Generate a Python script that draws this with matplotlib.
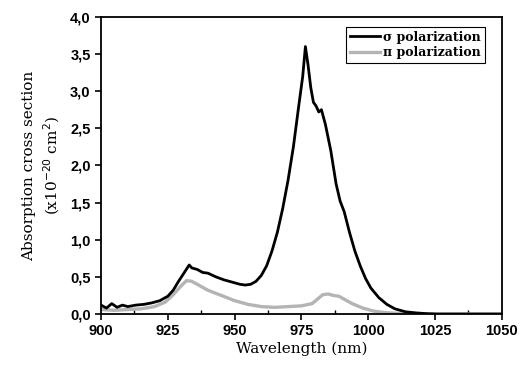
import numpy as np
import matplotlib
matplotlib.use('Agg')
import matplotlib.pyplot as plt
from matplotlib.ticker import MultipleLocator, FuncFormatter

# sigma polarization (black)
sigma_wl = [900, 902, 904, 906, 908, 910, 913, 916, 919, 922, 925, 927, 929, 931,
            933, 934, 936, 938, 940, 943, 946, 949, 952, 954, 956, 958, 960, 962,
            964, 966, 968, 970, 972, 974, 975.5, 976.5, 977.5, 978.5, 979.5, 980.5,
            981.5, 982.5, 984, 986, 988, 989.5, 991, 993, 995, 997, 999, 1001,
            1004, 1007, 1010, 1014, 1018, 1022, 1026, 1035, 1050]
sigma_val = [0.12, 0.08, 0.14, 0.09, 0.12, 0.10, 0.12, 0.13, 0.15, 0.18, 0.24, 0.32, 0.44, 0.55,
             0.66, 0.62, 0.60, 0.56, 0.55, 0.50, 0.46, 0.43, 0.40, 0.39, 0.40, 0.44, 0.52, 0.65,
             0.85, 1.10, 1.42, 1.80, 2.25, 2.80, 3.20, 3.60, 3.35, 3.05, 2.85, 2.80,
             2.72, 2.75, 2.55, 2.20, 1.75, 1.52, 1.38, 1.10, 0.85, 0.65, 0.48, 0.35,
             0.22, 0.13, 0.07, 0.03, 0.015, 0.005, 0.0, 0.0, 0.0]

# pi polarization (grey)
pi_wl = [900, 905, 910, 915, 920, 924, 927, 930, 932, 934, 936, 940, 945, 950,
         955, 960, 965, 970, 975, 979, 981, 983, 985, 987, 989, 991, 994, 998,
         1002, 1006, 1010, 1020, 1050]
pi_val = [0.06, 0.05, 0.06, 0.07, 0.10, 0.16, 0.26, 0.38, 0.45, 0.44, 0.40, 0.32, 0.25, 0.18,
          0.13, 0.10, 0.09, 0.10, 0.11, 0.14, 0.20, 0.26, 0.27, 0.25, 0.24, 0.20, 0.14, 0.08,
          0.04, 0.02, 0.01, 0.0, 0.0]

serif = 'DejaVu Serif'
tickfont = {'family': 'Liberation Sans', 'weight': 'bold', 'size': 10.5}

fig = plt.figure(figsize=(5.21, 3.66), dpi=100)
ax = fig.add_axes([0.194, 0.142, 0.769, 0.812])

ax.plot(pi_wl, pi_val, color='#b4b4b4', lw=2.4, label='\u03c0 polarization', zorder=2)
ax.plot(sigma_wl, sigma_val, color='black', lw=2.0, label='\u03c3 polarization', zorder=3)

ax.set_xlim(900, 1050)
ax.set_ylim(0, 4.0)
ax.xaxis.set_major_locator(MultipleLocator(25))
ax.xaxis.set_minor_locator(MultipleLocator(12.5))
ax.yaxis.set_major_locator(MultipleLocator(0.5))
ax.yaxis.set_major_formatter(FuncFormatter(lambda v, p: f'{v:.1f}'.replace('.', ',')))
ax.tick_params(axis='both', which='major', direction='out', length=4, width=1.2)
ax.tick_params(axis='x', which='minor', direction='in', length=3, width=1)
for lab in ax.get_xticklabels() + ax.get_yticklabels():
    lab.set_fontproperties(tickfont)
for s in ax.spines.values():
    s.set_linewidth(1.3)

ax.set_xlabel('Wavelength (nm)', fontfamily=serif, fontsize=11, labelpad=2)
ax.set_ylabel('Absorption cross section\n(x10$^{-20}$ cm$^{2}$)', fontfamily=serif,
              fontsize=11, labelpad=6, linespacing=1.3)

h, l = ax.get_legend_handles_labels()
leg = ax.legend(h[::-1], l[::-1], loc='upper right', bbox_to_anchor=(0.958, 0.966),
                borderaxespad=0, fancybox=False, edgecolor='black',
                prop={'family': serif, 'size': 9, 'weight': 'bold'}, handlelength=2.4,
                handletextpad=0.3, labelspacing=0.2, borderpad=0.3, framealpha=1)
leg.get_frame().set_linewidth(0.8)

fig.savefig('out.png', dpi=100)
